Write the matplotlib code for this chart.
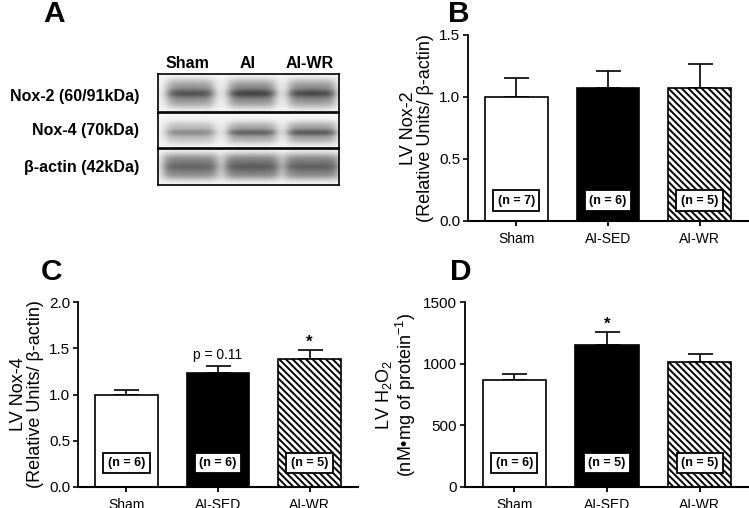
import numpy as np
import matplotlib
matplotlib.use("Agg")
import matplotlib.pyplot as plt

plt.rcParams['font.family'] = ['Liberation Sans', 'DejaVu Sans']
plt.rcParams['mathtext.fontset'] = 'custom'
plt.rcParams['mathtext.rm'] = 'Liberation Sans'
plt.rcParams['mathtext.it'] = 'Liberation Sans'
plt.rcParams['mathtext.default'] = 'regular'
plt.rcParams['hatch.linewidth'] = 1.4

# ---------------- data ----------------
groups = ["Sham", "AI-SED", "AI-WR"]

nox2_mean = [1.00, 1.07, 1.07]
nox2_sem = [0.15, 0.14, 0.20]
nox2_n = [7, 6, 5]

nox4_mean = [1.00, 1.23, 1.38]
nox4_sem = [0.05, 0.08, 0.10]
nox4_n = [6, 6, 5]
nox4_marks = ["", "p = 0.11", "*"]

h2o2_mean = [870, 1155, 1015]
h2o2_sem = [45, 105, 62]
h2o2_n = [6, 5, 5]
h2o2_marks = ["", "*", ""]

blot_lanes = ["Sham", "AI", "AI-WR"]
blot_rows = ["Nox-2 (60/91kDa)", "Nox-4 (70kDa)", "\u03b2-actin (42kDa)"]
nox2_band = [0.55, 0.60, 0.58]
nox4_band = [0.33, 0.45, 0.48]
actin_band = [0.66, 0.70, 0.68]

W, H = 749, 508
fig = plt.figure(figsize=(W / 100, H / 100), dpi=100)


def px_axes(x0, y0, x1, y1):
    return fig.add_axes([x0 / W, 1 - y1 / H, (x1 - x0) / W, (y1 - y0) / H])


# ---------------- panel A: blot ----------------
def band_image(dens, ncols, nrows, center_row, half_h, half_w, line_gain, lane_pos):
    xs = np.arange(ncols)[None, :]
    ys = np.arange(nrows)[:, None]
    img = np.full((nrows, ncols), 0.04)
    for c, d in zip(lane_pos, dens):
        hx = 1.0 / (1 + np.exp((np.abs(xs - c) - half_w) / 3.0))
        vy = np.exp(-((ys - center_row) / half_h) ** 4)
        line = np.exp(-((ys - center_row) / (half_h * 0.3)) ** 2)
        img = img + hx * vy * d * (0.7 + line_gain * line)
    return np.clip(img, 0, 1)


strip_y = [(74, 112), (113, 148), (149, 185)]
blot_x0, blot_x1 = 158, 339
lane_pos = [32, 93.5, 153.5]
band_specs = [
    (nox2_band, 19, 14, 23, 0.45),
    (nox4_band, 19, 11, 24, 0.55),
    (actin_band, 17, 13, 27, 0.15),
]
row_label_y = [96, 130, 167]
for (y0, y1), spec, lab, ly in zip(strip_y, band_specs, blot_rows, row_label_y):
    ax = px_axes(blot_x0, y0, blot_x1, y1)
    dens, crow, hh, hw, lg = spec
    img = band_image(dens, blot_x1 - blot_x0, y1 - y0, crow, hh, hw, lg, lane_pos)
    ax.imshow(img, cmap='gray_r', vmin=0, vmax=1, aspect='auto', interpolation='bilinear')
    ax.set_xticks([])
    ax.set_yticks([])
    for s in ax.spines.values():
        s.set_linewidth(1.2)
    fig.text(139 / W, 1 - ly / H, lab, ha='right', va='center', fontsize=11.5,
             fontweight='bold')

for name, xc in zip(blot_lanes, [187, 248, 310]):
    fig.text(xc / W, 1 - 64 / H, name, ha='center', va='center', fontsize=11.5,
             fontweight='bold')

# ---------------- bar panels ----------------
colors = ['white', 'black', 'white']
hatches = [None, None, '\\\\\\\\\\']


def bar_panel(ax, means, sems, ns, ylim, yticks, fmt, ylabel, nbox_y, marks=None):
    x = np.arange(len(groups))
    bars = ax.bar(x, means, width=0.68, color=colors, edgecolor='black', linewidth=1.2,
                  zorder=2)
    for b, h in zip(bars, hatches):
        if h:
            b.set_hatch(h)
    ax.errorbar(x, means, yerr=[np.zeros(len(x)), sems], fmt='none', ecolor='black',
                elinewidth=1.2, capsize=9, capthick=1.2, zorder=1)
    ax.set_xlim(-0.53, 2.53)
    ax.set_ylim(*ylim)
    ax.set_yticks(yticks)
    ax.set_yticklabels([fmt.format(v) for v in yticks], fontsize=11)
    ax.set_xticks(x)
    ax.set_xticklabels(groups, fontsize=10)
    ax.spines['top'].set_visible(False)
    ax.spines['right'].set_visible(False)
    ax.spines['left'].set_linewidth(1.3)
    ax.spines['bottom'].set_linewidth(1.5)
    ax.tick_params(axis='y', length=3.6, width=1.2, pad=2)
    ax.tick_params(axis='x', length=3.6, width=1.3, pad=4)
    ax.set_ylabel(ylabel, fontsize=13, linespacing=1.0, labelpad=4)
    for xi, n in zip(x, ns):
        ax.text(xi, nbox_y, f"(n = {n})", transform=ax.get_xaxis_transform(),
                ha='center', va='center', fontsize=9, fontweight='bold', zorder=4,
                bbox=dict(boxstyle='square,pad=0.35', facecolor='white',
                          edgecolor='black', linewidth=1.3))
    if marks:
        for xi, m, s, e in zip(x, marks, means, sems):
            if not m:
                continue
            if m == '*':
                ax.annotate(m, (xi, s + e), xytext=(0, 0), textcoords='offset points',
                            ha='center', va='bottom', fontsize=12, fontweight='bold')
            else:
                ax.annotate(m, (xi, s + e), xytext=(0, 3), textcoords='offset points',
                            ha='center', va='bottom', fontsize=10)


axB = px_axes(468, 35, 748, 221)
bar_panel(axB, nox2_mean, nox2_sem, nox2_n, (0, 1.5), [0, 0.5, 1.0, 1.5], "{:.1f}",
          "LV Nox-2\n(Relative Units/ \u03b2-actin)", 0.11)

axC = px_axes(78, 302, 358, 487)
bar_panel(axC, nox4_mean, nox4_sem, nox4_n, (0, 2.0), [0, 0.5, 1.0, 1.5, 2.0], "{:.1f}",
          "LV Nox-4\n(Relative Units/ \u03b2-actin)", 0.13, nox4_marks)

axD = px_axes(465, 302, 749, 487)
bar_panel(axD, h2o2_mean, h2o2_sem, h2o2_n, (0, 1500), [0, 500, 1000, 1500], "{:.0f}",
          "LV H$_2$O$_2$\n(nM\u2022mg of protein$^{-1}$)", 0.13, h2o2_marks)

# panel letters
for letter, (lx, ly) in zip("ABCD", [(54, 14), (459, 14), (52, 272), (461, 272)]):
    fig.text(lx / W, 1 - ly / H, letter, ha='center', va='center', fontsize=21.5,
             fontweight='bold')

fig.savefig("out.png", dpi=100)
